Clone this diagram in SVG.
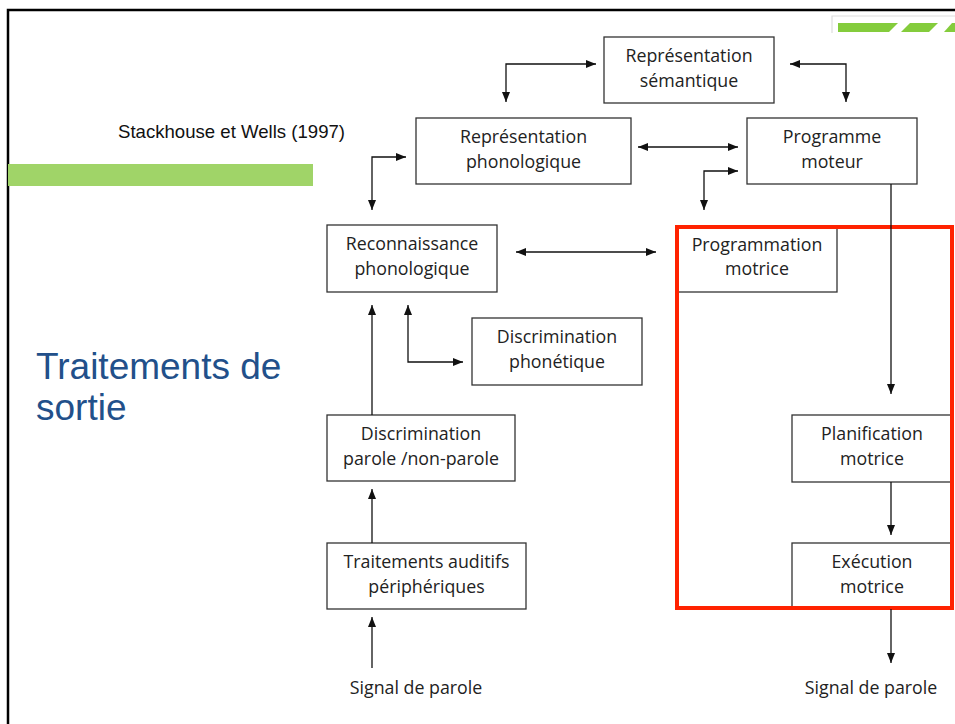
<svg xmlns="http://www.w3.org/2000/svg" width="955" height="724" viewBox="0 0 955 724">
<style>
.box{fill:#fff;stroke:#333;stroke-width:1.3}
.t{font-family:"Open Sans","Liberation Sans",sans-serif;font-size:17.8px;fill:#222;text-anchor:middle}
.c{fill:none;stroke:#111;stroke-width:1.3}
</style>
<defs>
<marker id="ah" viewBox="0 0 10 8" refX="10" refY="4" markerWidth="10" markerHeight="8" markerUnits="userSpaceOnUse" orient="auto-start-reverse">
<path d="M0,0 L10,4 L0,8 z" fill="#111"/>
</marker>
</defs>
<rect width="955" height="724" fill="#fff"/>
<g id="frame">
<path d="M8,724 V10 H955" fill="none" stroke="#000" stroke-width="2.5"/>
<path d="M832,33 V16 H955" fill="none" stroke="#ddd" stroke-width="1.2"/>
<polygon points="838,23 898,23 889,32 838,32" fill="#84cc3c"/>
<polygon points="910,23 938,23 929,32 901,32" fill="#84cc3c"/>
<polygon points="952,23 955,23 955,32 944,32" fill="#84cc3c"/>
<rect x="8" y="164" width="305" height="22" fill="#a0d468"/>
</g>
<g id="titles">
<text x="118" y="138" font-family="Liberation Sans, Arial, sans-serif" font-size="18.6" fill="#111">Stackhouse et Wells (1997)</text>
<text x="36" y="379" font-family="Liberation Sans, Arial, sans-serif" font-size="37" fill="#22508a">Traitements de</text>
<text x="36" y="420" font-family="Liberation Sans, Arial, sans-serif" font-size="37" fill="#22508a">sortie</text>
</g>
<g id="n-semantique"><rect class="box" x="604" y="37" width="170" height="66"/><text class="t" x="689" y="62">Représentation</text><text class="t" x="689" y="87">sémantique</text></g>
<g id="n-rep-phono"><rect class="box" x="416" y="118" width="215" height="66"/><text class="t" x="523.5" y="143">Représentation</text><text class="t" x="523.5" y="168">phonologique</text></g>
<g id="n-prog-moteur"><rect class="box" x="747" y="118" width="170" height="66"/><text class="t" x="832" y="143">Programme</text><text class="t" x="832" y="168">moteur</text></g>
<g id="n-reco"><rect class="box" x="327" y="225" width="170" height="67"/><text class="t" x="412" y="250">Reconnaissance</text><text class="t" x="412" y="275">phonologique</text></g>
<g id="n-disc-phon"><rect class="box" x="472" y="318" width="170" height="67"/><text class="t" x="557" y="343">Discrimination</text><text class="t" x="557" y="368">phonétique</text></g>
<g id="n-disc-parole"><rect class="box" x="327" y="415" width="188" height="66"/><text class="t" x="421" y="440">Discrimination</text><text class="t" x="421" y="465">parole /non-parole</text></g>
<g id="n-trait"><rect class="box" x="327" y="543" width="199" height="66"/><text class="t" x="426.5" y="568">Traitements auditifs</text><text class="t" x="426.5" y="593">périphériques</text></g>
<g id="n-programmation"><rect class="box" x="677" y="226" width="160" height="66"/><text class="t" x="757" y="251">Programmation</text><text class="t" x="757" y="275">motrice</text></g>
<g id="n-planif"><rect class="box" x="792" y="415" width="160" height="67"/><text class="t" x="872" y="440">Planification</text><text class="t" x="872" y="465">motrice</text></g>
<g id="n-exec"><rect class="box" x="792" y="543" width="160" height="66"/><text class="t" x="872" y="568">Exécution</text><text class="t" x="872" y="593">motrice</text></g>
<g id="redbox"><rect x="677" y="227" width="275" height="381" fill="none" stroke="#ff2200" stroke-width="4"/></g>
<g id="n-signal-in"><text class="t" x="416" y="694">Signal de parole</text></g>
<g id="n-signal-out"><text class="t" x="871" y="694">Signal de parole</text></g>
<g id="connectors">
<path class="c" d="M506,102 V64 H596" marker-start="url(#ah)" marker-end="url(#ah)"/>
<path class="c" d="M790,64 H846 V102" marker-start="url(#ah)" marker-end="url(#ah)"/>
<path class="c" d="M638,147 H738" marker-start="url(#ah)" marker-end="url(#ah)"/>
<path class="c" d="M704,210 V171 H738" marker-start="url(#ah)" marker-end="url(#ah)"/>
<path class="c" d="M372,210 V157 H406" marker-start="url(#ah)" marker-end="url(#ah)"/>
<path class="c" d="M516,252 H656" marker-start="url(#ah)" marker-end="url(#ah)"/>
<path class="c" d="M372,415 V305" marker-end="url(#ah)"/>
<path class="c" d="M408,305 V362 H463" marker-start="url(#ah)" marker-end="url(#ah)"/>
<path class="c" d="M372,543 V489" marker-end="url(#ah)"/>
<path class="c" d="M372,668 V617" marker-end="url(#ah)"/>
<path class="c" d="M891,184 V394" marker-end="url(#ah)"/>
<path class="c" d="M891,482 V535" marker-end="url(#ah)"/>
<path class="c" d="M891,609 V663" marker-end="url(#ah)"/>
</g>
</svg>
